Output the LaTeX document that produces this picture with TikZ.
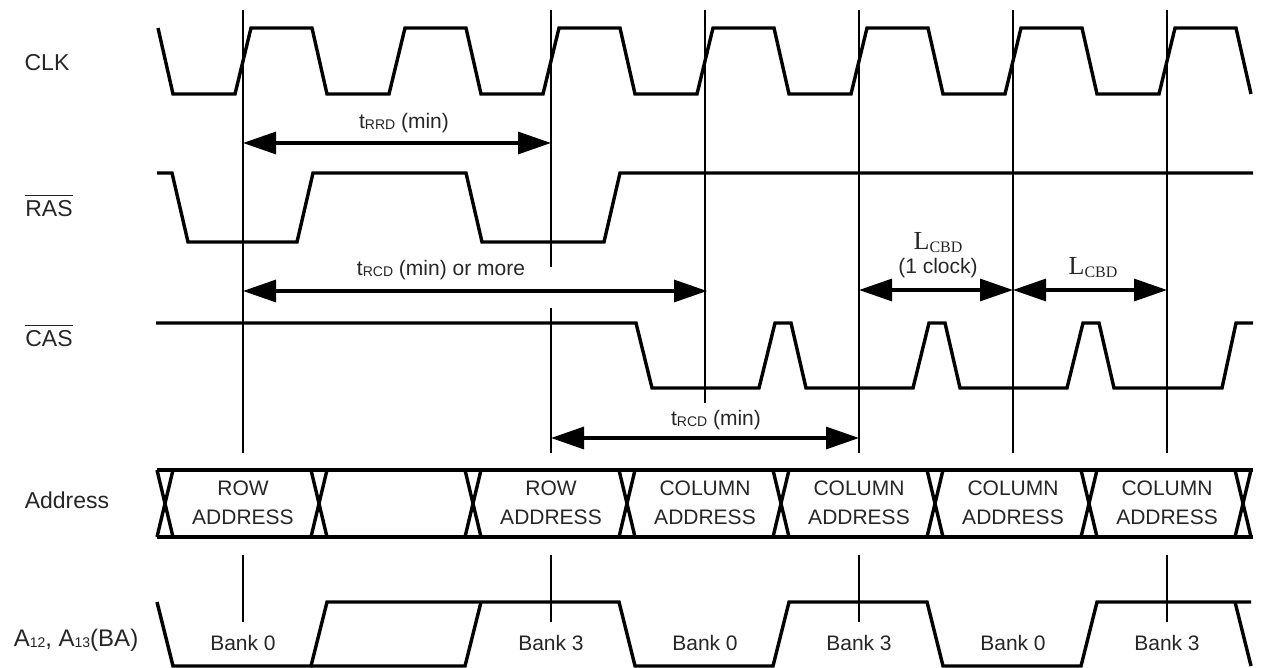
\documentclass[tikz,border=0pt]{standalone}
\usepackage{fontspec}
\setmainfont{Liberation Sans}
\newfontfamily\serifbank{Liberation Serif}
\usetikzlibrary{arrows.meta}
\newcommand{\lowsub}[1]{\raisebox{-1pt}{\fontsize{14}{14}\selectfont #1}}
\newcommand{\ovl}[1]{\leavevmode\vbox{\hrule height 1.2pt\kern 4pt\hbox{#1}}}
\newcommand{\lcbd}{{\serifbank\fontsize{26}{26}\selectfont L\raisebox{-3pt}{\fontsize{16}{16}\selectfont CBD}}}

\begin{document}
\begin{tikzpicture}[x=1pt,y=-1pt,
    sig/.style={line width=3.4pt},
    edgeln/.style={line width=2.8pt},
    dim/.style={line width=3.2pt,{Triangle[length=33pt,width=22pt]}-{Triangle[length=33pt,width=22pt]}},
    lbl/.style={inner sep=0pt,text=black!85,font=\fontsize{23}{23}\selectfont},
    txt/.style={inner sep=0pt,text=black!85,align=center,font=\fontsize{21}{29}\selectfont}]
    \useasboundingbox (0,0) rectangle (1261,668);

    \node[lbl] (clk) at (47,63) {CLK};
    \node[lbl] (ras) at (49,206) {\ovl{RAS}};
    \node[lbl] (cas) at (49,336) {\ovl{CAS}};
    \node[lbl] (addr) at (67,500) {Address};
    \node[lbl,font=\fontsize{24}{24}\selectfont] (ba) at (76,640) {A\lowsub{12}, A\lowsub{13}(BA)};

    \draw[sig] (158,28) -- (173,94)
        \foreach \e in {243,397,...,1167} { -- (\e-8,94) -- (\e+8,28) -- (\e+69,28) -- (\e+84,94) };
    \draw[sig] (157,173) -- (172,173) -- (188,242) -- (297,242) -- (313,173) -- (466,173)
        -- (482,242) -- (604,242) -- (620,173) -- (1253,173);
    \draw[sig] (156,323) -- (636,323) -- (652,388)
        \foreach \p in {759,913,1067} { -- (\p,388) -- (\p+16,323) -- (\p+32,323) -- (\p+47,388) }
        -- (1222,388) -- (1236,323) -- (1253,323);

    \foreach \e in {243,859,1013,1167} \draw[edgeln] (\e,10) -- (\e,453);
    \draw[edgeln] (551,10) -- (551,267) (551,308) -- (551,453);
    \draw[edgeln] (705,10) -- (705,403);
    \foreach \e in {243,551,...,1167} \draw[edgeln] (\e,555) -- (\e,622);

    \coordinate (rrdA) at (243,143);
    \coordinate (rrdB) at (551,143);
    \coordinate (rcdA) at (243,291);
    \coordinate (rcdB) at (707,291);
    \coordinate (rcdC) at (551,438);
    \coordinate (rcdD) at (859,438);
    \coordinate (cbdA) at (859,290);
    \coordinate (cbdB) at (1013,290);
    \coordinate (cbdC) at (1167,290);
    \draw[dim] (rrdA) -- (rrdB);
    \draw[dim] (rcdA) -- (rcdB);
    \draw[dim] (rcdC) -- (rcdD);
    \draw[dim] (cbdA) -- (cbdB);
    \draw[dim] (cbdB) -- (cbdC);
    \node[txt] (rrdlbl) at (404,123) {t\lowsub{RRD} (min)};
    \node[txt] (rcdlbl) at (441,270) {t\lowsub{RCD} (min) or more};
    \node[txt] (rcdmin) at (716,420) {t\lowsub{RCD} (min)};
    \node[txt,font=\fontsize{21}{24}\selectfont] (cbdone) at (938,255) {\lcbd\\(1 clock)};
    \node[txt] (cbdtwo) at (1093,268) {\lcbd};

    \draw[sig] (157,470) -- (1253,470) (157,537) -- (1253,537);
    \foreach \c in {165,319,...,1243} \draw[sig] (\c-8,470) -- (\c+8,537) (\c+8,470) -- (\c-8,537);
    \foreach \x/\n in {243/a,551/b} \node[txt] (row\n) at (\x,503) {ROW\\ADDRESS};
    \foreach \x/\n in {705/a,859/b,1013/c,1167/d} \node[txt] (col\n) at (\x,503) {COLUMN\\ADDRESS};

    \draw[sig] (157,602) -- (173,666) -- (311,666) -- (327,602) -- (619,602) -- (635,666)
        -- (773,666) -- (789,602) -- (927,602) -- (943,666) -- (1081,666) -- (1097,602) -- (1251,602);
    \draw[sig] (311,666) -- (465,666) -- (481,602);
    \draw[sig] (1235,602) -- (1251,666);
    \foreach \x/\b/\n in {243/0/a,551/3/b,705/0/c,859/3/d,1013/0/e,1167/3/f}
        \node[txt] (bank\n) at (\x,643) {Bank \b};

\end{tikzpicture}
\end{document}
